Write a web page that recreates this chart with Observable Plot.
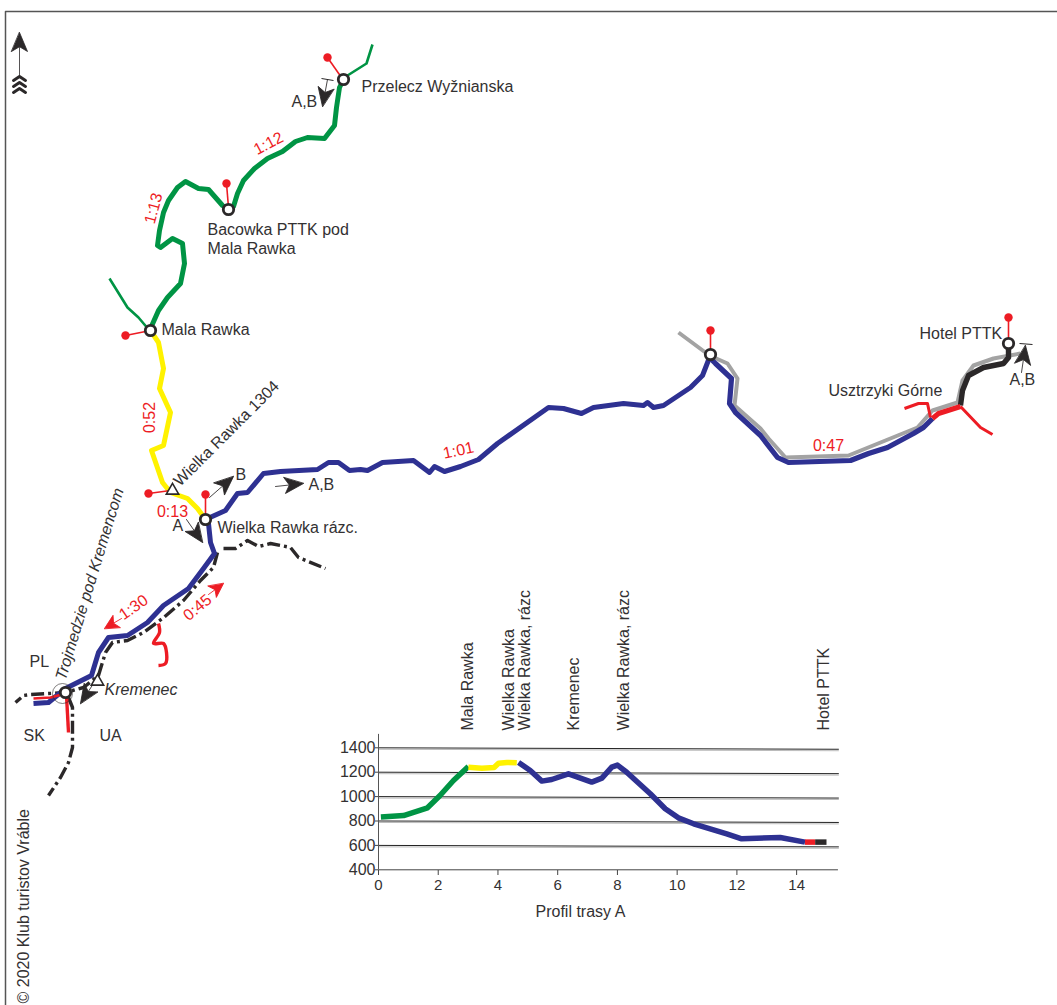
<!DOCTYPE html>
<html><head><meta charset="utf-8">
<script src="https://cdn.jsdelivr.net/npm/d3@7"></script>
<script src="https://cdn.jsdelivr.net/npm/@observablehq/plot@0.6"></script>
<style>
html,body{margin:0;padding:0;background:#fff}
#wrap{position:relative;width:1057px;height:1005px;overflow:hidden}
#wrap>svg,#wrap>div{position:absolute}
</style></head><body><div id="wrap"></div>
<script>
const FONT = '"Liberation Sans", Arial, sans-serif';
const INK = "#2b2829", TEXT = "#333132", RED = "#ed1c24", BLUE = "#2e3192", GREEN = "#009444", YELLOW = "#fff200", GREY = "#a3a3a3";

// Map traces, in picture coordinates
const greenMain = [[343,79],[339,87],[336,107],[334,125],[324,138],[307,137],[295,141],[282,151],[267,158],[254,168],[243,180],[237,193],[233,206],[228,209],[222,205],[208,189],[198,188],[185,181],[177,187],[168,200],[163,212],[159,230],[157,245],[160,247],[172,238],[182,243],[184,263],[180,283],[167,297],[158,310],[150,328]];
const greenNorth = [[372,44],[366,63],[347,75],[343,79]];
const greenWest = [[109,278],[127,307],[138,317],[149,330]];
const yellowRoute = [[150,330],[158,342],[163,368],[159,388],[170,412],[163,445],[151,450],[162,482],[170,492],[187,498],[197,508],[205,519]];
const blueEast = [[205,519],[225,510],[237,493],[247,492],[263,473],[280,471],[317,469],[328,462],[338,462],[349,470],[360,469],[367,470],[382,462],[413,460],[429,472],[434,466],[444,471],[460,466],[478,459],[497,443],[548,407],[563,408],[581,413],[593,407],[623,403],[643,405],[647,402],[653,407],[663,405],[675,397],[690,387],[702,375],[709,357]];
const blueValley = [[709,357],[715,363],[731,378],[729,403],[735,412],[760,435],[777,457],[788,462],[850,460],[868,453],[887,447],[913,433],[923,427],[932,418]];
const blueSouth = [[205,519],[208,523],[210,542],[214,553],[203,568],[188,588],[163,605],[147,622],[127,635],[108,637],[98,652],[91,675],[65,688],[48,702],[33,703]];
const greyRoute = [[678,332],[709,355],[727,363],[737,378],[734,405],[760,428],[768,438],[785,457],[848,455],[917,427],[932,410],[957,402],[962,380],[973,365],[993,358],[1020,353]];
const blackRoute = [[960,405],[962,390],[968,375],[983,367],[1003,363],[1008,357],[1008,343]];
const redThick = [[932,418],[938,413],[960,406]];
const redBranchWest = [[904,408],[918,403],[927,403],[930,417]];
const redBranchEast = [[960,406],[980,427],[992,434]];
const redSquiggle = [[158,623],[159,632],[153,643],[163,643],[166,652],[165,663],[158,665]];
const redBorderWest = [[33,698],[50,697],[65,693]];
const redBorderSouth = [[66,695],[68,732]];
const borderEast = [[223,548],[235,548],[247,540],[258,546],[270,543],[290,547],[298,557],[325,568]];
const borderMain = [[217,552],[213,567],[200,580],[183,600],[162,618],[143,632],[127,640],[112,642],[105,652],[98,675],[83,687],[65,692],[30,694],[23,695],[15,702]];
const borderSouth = [[68,697],[72,707],[72,747],[68,762],[60,777],[48,795]];
const frameLine = [[5,1005],[5,11],[1057,11]];

const nodes = [[343,79],[228,209],[150,330],[205,519],[710,354],[1008,343],[65,692]];
const stubs = [
  {x1:327,y1:57,x2:341,y2:77},{x1:226,y1:183,x2:228,y2:207},{x1:125,y1:335,x2:150,y2:330},
  {x1:148,y1:493,x2:170,y2:490},{x1:205,y1:494,x2:205,y2:517},{x1:710,y1:330,x2:710,y2:352},{x1:1008,y1:317,x2:1008,y2:341}
];
const summits = [[172,490],[97,681]];
const arrowsInk = [
  {x1:327,y1:79,x2:322,y2:106},{x1:209,y1:497,x2:233,y2:476},{x1:275,y1:486,x2:303,y2:483},
  {x1:186,y1:519,x2:202,y2:542},{x1:95,y1:680,x2:80,y2:703},{x1:1021,y1:372,x2:1025,y2:345},{x1:19,y1:76,x2:19,y2:32}
];
const arrowsRed = [{x1:121,y1:618,x2:104,y2:628},{x1:208,y1:594,x2:223,y2:583}];
const bars = [{x1:321,y1:78,x2:333,y2:80},{x1:1019,y1:343,x2:1032,y2:344}];
const chevrons = [[[13,80],[19,76],[25,80]],[[13,86],[19,82],[25,86]],[[13,92],[19,88],[25,92]]];

const labels = [
  {x:361,y:86,t:"Przelecz Wyžnianska"},{x:291,y:101,t:"A,B"},
  {x:207,y:229,t:"Bacowka PTTK pod"},{x:207,y:248,t:"Mala Rawka"},{x:161,y:329,t:"Mala Rawka"},
  {x:176,y:483,t:"Wielka Rawka 1304",r:-45},{x:172,y:525,t:"A"},{x:235,y:474,t:"B"},{x:308,y:484,t:"A,B"},
  {x:217,y:527,t:"Wielka Rawka rázc."},{x:828,y:390,t:"Usztrzyki Górne"},{x:919,y:333,t:"Hotel PTTK"},
  {x:1009,y:379,t:"A,B"},{x:29,y:661,t:"PL"},
  {x:23,y:735,t:"SK"},{x:99,y:735,t:"UA"},{x:23,y:1003,t:"© 2020 Klub turistov Vráble",r:-90}
];
const italicLabels = [
  {x:60,y:679,t:"Trojmedzie pod Kremencom",r:-73},{x:104,y:689,t:"Kremenec",r:0}
];
const times = [
  {x:268,y:143,t:"1:12",r:-28},{x:153,y:208,t:"1:13",r:-75},{x:149,y:417,t:"0:52",r:-90},{x:172,y:511,t:"0:13",r:0},
  {x:458,y:450,t:"1:01",r:-12},{x:828,y:445,t:"0:47",r:0},{x:133,y:607,t:"1:30",r:-35},{x:197,y:607,t:"0:45",r:-40}
];

// Elevation profile
const profileGreen = [[0.08,832],[0.84,845],[1.64,908],[2.06,1009],[2.51,1132],[3.01,1247]];
const profileYellow = [[3.01,1241],[3.46,1233],[3.87,1239],[4.02,1274],[4.30,1280],[4.63,1277]];
const profileBlue = [[4.69,1280],[5.08,1214],[5.47,1127],[5.80,1140],[6.36,1187],[7.14,1119],[7.48,1151],[7.81,1241],[8.0,1258],[8.31,1200],[9.1,1023],[9.6,900],[10.04,826],[10.55,777],[11.66,695],[12.16,654],[13.45,665],[14.28,627]];
const profileRed = [[14.28,627],[14.62,627]];
const profileBlack = [[14.62,627],[15.0,627]];
const elevTicks = [400,600,800,1000,1200,1400];
const kmTicks = [0,2,4,6,8,10,12,14];
const gridLevels = [600,800,1000,1200,1400];
const stops = [
  {km:3.0,t:"Mala Rawka"},{km:4.37,t:"Wielka Rawka"},{km:4.9,t:"Wielka Rawka, rázc"},
  {km:6.55,t:"Kremenec"},{km:8.22,t:"Wielka Rawka, rázc"},{km:14.9,t:"Hotel PTTK"}
];

const dartShape = (hl,hw)=>({draw(c,l){
  c.moveTo(0,0); c.lineTo(0,-l+hl*0.75);
  c.moveTo(0,-l); c.lineTo(hw,-l+hl); c.lineTo(0,-l+hl*0.75); c.lineTo(-hw,-l+hl); c.closePath();
}});
const arrowMark = (a,color,shape)=>Plot.vector([a],{x:"x1",y:"y1",anchor:"start",shape,
  length:Math.hypot(a.x2-a.x1,a.y2-a.y1),
  rotate:Math.atan2(a.x2-a.x1,a.y1-a.y2)*180/Math.PI,
  stroke:color,fill:color,strokeWidth:0.8});
const route = (d,stroke,strokeWidth,extra={})=>Plot.line(d,{stroke,strokeWidth,strokeLinejoin:"round",strokeLinecap:"butt",curve:"linear",...extra});
const dashed = {strokeDasharray:"13 4 3 4"};

const map = Plot.plot({
  width:1057,height:1005,margin:0,
  x:{domain:[0,1057],range:[0,1057],axis:null},
  y:{domain:[0,1005],range:[0,1005],axis:null},
  style:{fontFamily:FONT,background:"transparent"},
  marks:[
    Plot.line(frameLine,{stroke:"#555",strokeWidth:1.5}),
    route(borderEast,INK,3.4,dashed),route(borderMain,INK,3.4,dashed),route(borderSouth,INK,3.4,dashed),
    route(greyRoute,GREY,4),
    route(greenNorth,GREEN,2.6),route(greenWest,GREEN,2.6),route(greenMain,GREEN,5),
    route(yellowRoute,YELLOW,5),
    route(blueEast,BLUE,5),route(blueValley,BLUE,5.2),route(blueSouth,BLUE,5),
    route(blackRoute,INK,5.4),route(redBranchWest,RED,3),route(redBranchEast,RED,3),
    route(redThick,RED,5),route(redSquiggle,RED,3.4,{curve:"catmull-rom"}),
    route(redBorderWest,RED,2.6),route(redBorderSouth,RED,3.4),
    Plot.link(stubs,{x1:"x1",y1:"y1",x2:"x2",y2:"y2",stroke:RED,strokeWidth:1.6}),
    Plot.dot(stubs,{x:"x1",y:"y1",r:4.2,fill:RED}),
    Plot.link(bars,{x1:"x1",y1:"y1",x2:"x2",y2:"y2",stroke:INK,strokeWidth:1}),
    ...arrowsInk.map(a=>arrowMark(a,INK,dartShape(19,8))),
    ...arrowsRed.map(a=>arrowMark(a,RED,dartShape(14,7))),
    ...chevrons.map(c=>Plot.line(c,{stroke:INK,strokeWidth:3})),
    Plot.dot([[62,693]],{r:10,stroke:INK,strokeWidth:0.6,fill:"none"}),
    Plot.dot(nodes,{r:5.2,fill:"#fff",stroke:INK,strokeWidth:2.8}),
    Plot.dot(summits,{symbol:"triangle",r:4.6,fill:"#fff",stroke:INK,strokeWidth:1.6}),
    Plot.text(labels,{x:"x",y:"y",text:"t",rotate:d=>d.r||0,textAnchor:"start",fill:TEXT,fontSize:16}),
    Plot.text(italicLabels,{x:"x",y:"y",text:"t",rotate:"r",fontStyle:"italic",textAnchor:"start",fill:TEXT,fontSize:16}),
    Plot.text(times,{x:"x",y:"y",text:"t",rotate:"r",textAnchor:"middle",fill:RED,fontSize:16})
  ]
});
document.getElementById("wrap").append(map);

const gridLine = (v,color,dy=0)=>Plot.line([[0,v+dy],[15.4,v+dy-12]],{stroke:color,strokeWidth:1});
const inset = Plot.plot({
  width:510,height:350,marginLeft:38,marginRight:24,marginTop:0,marginBottom:60,
  x:{domain:[0,15],range:[38,486],axis:null},
  y:{domain:[400,1400],range:[289.3,167.3],axis:null},
  style:{fontFamily:FONT,background:"transparent",overflow:"visible"},
  marks:[
    ...gridLevels.map(v=>gridLine(v,"#bbb",-12)),
    ...gridLevels.map(v=>gridLine(v,"#222")),
    Plot.ruleX([0],{y1:400,y2:1510,stroke:"#555",strokeWidth:1}),
    Plot.ruleY([400],{x1:0,x2:15.4,stroke:"#444",strokeWidth:1}),
    Plot.axisX({ticks:kmTicks,tickSize:5,tickPadding:4,fontSize:15,color:TEXT,stroke:"#444",label:null,tickFormat:d=>String(d)}),
    Plot.axisY({ticks:elevTicks,tickSize:3,tickPadding:0,fontSize:16,color:TEXT,stroke:"#444",label:null,tickFormat:d=>String(d)}),
    route(profileGreen,GREEN,5.5),route(profileYellow,YELLOW,5.5),route(profileBlue,BLUE,5.5),
    route(profileRed,RED,5.5),route(profileBlack,INK,5.5),
    Plot.text(stops,{x:"km",y:1542,text:"t",rotate:-90,textAnchor:"start",fill:TEXT,fontSize:16}),
    Plot.text(["Profil trasy A"],{x:6.76,y:58,text:d=>d,fill:TEXT,fontSize:16})
  ]
});
inset.style.left="340px"; inset.style.top="580px";
document.getElementById("wrap").append(inset);
</script></body></html>
